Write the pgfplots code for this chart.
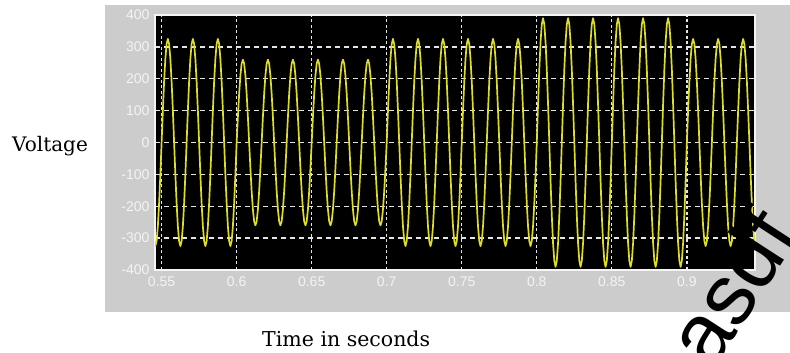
\documentclass[border=0pt]{standalone}
\usepackage{pgfplots}
\pgfplotsset{compat=1.18}
\usepackage{fontspec}
\setmainfont{DejaVu Serif}
\newfontfamily\ticksfont{Liberation Sans}
\newfontfamily\wmfont{Liberation Sans}
\definecolor{panelgray}{RGB}{204,204,204}
\definecolor{sigyellow}{RGB}{222,222,40}
\definecolor{gridwhite}{RGB}{228,228,228}
\definecolor{ticktext}{RGB}{244,244,244}
\begin{document}
\begin{tikzpicture}[x=1pt,y=1pt]
\useasboundingbox (0,0) rectangle (790,353);
\fill[panelgray] (105,41) rectangle (790,348);
\begin{axis}[
  at={(155pt,83pt)}, anchor=south west,
  scale only axis, width=600pt, height=255pt,
  xmin=0.5456, xmax=0.9454, ymin=-400, ymax=400,
  xtick={0.55,0.6,0.65,0.7,0.75,0.8,0.85,0.9},
  xticklabels={0.55,0.6,0.65,0.7,0.75,0.8,0.85,0.9},
  ytick={-400,-300,-200,-100,0,100,200,300,400},
  yticklabels={-400,-300,-200,-100,0,100,200,300,400},
  major tick length=0pt,
  ticklabel style={font=\ticksfont\fontsize{14}{14}\selectfont, text=ticktext},
  xticklabel style={yshift=-3pt},
  yticklabel style={xshift=-2pt},
  axis background/.style={fill=black},
  axis line style={draw=ticktext, line width=1.2pt},
  grid=major,
  major grid style={gridwhite, line width=1.3pt},
  x grid style={dash pattern=on 3pt off 2.5pt},
  y grid style={dash pattern=on 5pt off 4pt},
]
\addplot[sigyellow, line width=1.7pt, line join=round, no markers] table[row sep=\\, x expr=\thisrow{n}/1200, y=v] {
n v\\
654 -309.1\\ 655 -325\\ 656 -309.1\\ 657 -262.9\\ 658 -191.0\\ 659 -100.4\\
660 0\\ 661 100.4\\ 662 191.0\\ 663 262.9\\ 664 309.1\\ 665 325\\ 666 309.1\\ 667 262.9\\ 668 191.0\\ 669 100.4\\ 670 0\\ 671 -100.4\\ 672 -191.0\\ 673 -262.9\\ 674 -309.1\\ 675 -325\\ 676 -309.1\\ 677 -262.9\\ 678 -191.0\\ 679 -100.4\\
680 0\\ 681 100.4\\ 682 191.0\\ 683 262.9\\ 684 309.1\\ 685 325\\ 686 309.1\\ 687 262.9\\ 688 191.0\\ 689 100.4\\ 690 0\\ 691 -100.4\\ 692 -191.0\\ 693 -262.9\\ 694 -309.1\\ 695 -325\\ 696 -309.1\\ 697 -262.9\\ 698 -191.0\\ 699 -100.4\\
700 0\\ 701 100.4\\ 702 191.0\\ 703 262.9\\ 704 309.1\\ 705 325\\ 706 309.1\\ 707 262.9\\ 708 191.0\\ 709 100.4\\ 710 0\\ 711 -100.4\\ 712 -191.0\\ 713 -262.9\\ 714 -309.1\\ 715 -325\\ 716 -309.1\\ 717 -262.9\\ 718 -191.0\\ 719 -100.4\\
720 0\\ 721 80.3\\ 722 152.8\\ 723 210.3\\ 724 247.3\\ 725 260\\ 726 247.3\\ 727 210.3\\ 728 152.8\\ 729 80.3\\ 730 0\\ 731 -80.3\\ 732 -152.8\\ 733 -210.3\\ 734 -247.3\\ 735 -260\\ 736 -247.3\\ 737 -210.3\\ 738 -152.8\\ 739 -80.3\\
740 0\\ 741 80.3\\ 742 152.8\\ 743 210.3\\ 744 247.3\\ 745 260\\ 746 247.3\\ 747 210.3\\ 748 152.8\\ 749 80.3\\ 750 0\\ 751 -80.3\\ 752 -152.8\\ 753 -210.3\\ 754 -247.3\\ 755 -260\\ 756 -247.3\\ 757 -210.3\\ 758 -152.8\\ 759 -80.3\\
760 0\\ 761 80.3\\ 762 152.8\\ 763 210.3\\ 764 247.3\\ 765 260\\ 766 247.3\\ 767 210.3\\ 768 152.8\\ 769 80.3\\ 770 0\\ 771 -80.3\\ 772 -152.8\\ 773 -210.3\\ 774 -247.3\\ 775 -260\\ 776 -247.3\\ 777 -210.3\\ 778 -152.8\\ 779 -80.3\\
780 0\\ 781 80.3\\ 782 152.8\\ 783 210.3\\ 784 247.3\\ 785 260\\ 786 247.3\\ 787 210.3\\ 788 152.8\\ 789 80.3\\ 790 0\\ 791 -80.3\\ 792 -152.8\\ 793 -210.3\\ 794 -247.3\\ 795 -260\\ 796 -247.3\\ 797 -210.3\\ 798 -152.8\\ 799 -80.3\\
800 0\\ 801 80.3\\ 802 152.8\\ 803 210.3\\ 804 247.3\\ 805 260\\ 806 247.3\\ 807 210.3\\ 808 152.8\\ 809 80.3\\ 810 0\\ 811 -80.3\\ 812 -152.8\\ 813 -210.3\\ 814 -247.3\\ 815 -260\\ 816 -247.3\\ 817 -210.3\\ 818 -152.8\\ 819 -80.3\\
820 0\\ 821 80.3\\ 822 152.8\\ 823 210.3\\ 824 247.3\\ 825 260\\ 826 247.3\\ 827 210.3\\ 828 152.8\\ 829 80.3\\ 830 0\\ 831 -80.3\\ 832 -152.8\\ 833 -210.3\\ 834 -247.3\\ 835 -260\\ 836 -247.3\\ 837 -210.3\\ 838 -152.8\\ 839 -80.3\\
840 0\\ 841 100.4\\ 842 191.0\\ 843 262.9\\ 844 309.1\\ 845 325\\ 846 309.1\\ 847 262.9\\ 848 191.0\\ 849 100.4\\ 850 0\\ 851 -100.4\\ 852 -191.0\\ 853 -262.9\\ 854 -309.1\\ 855 -325\\ 856 -309.1\\ 857 -262.9\\ 858 -191.0\\ 859 -100.4\\
860 0\\ 861 100.4\\ 862 191.0\\ 863 262.9\\ 864 309.1\\ 865 325\\ 866 309.1\\ 867 262.9\\ 868 191.0\\ 869 100.4\\ 870 0\\ 871 -100.4\\ 872 -191.0\\ 873 -262.9\\ 874 -309.1\\ 875 -325\\ 876 -309.1\\ 877 -262.9\\ 878 -191.0\\ 879 -100.4\\
880 0\\ 881 100.4\\ 882 191.0\\ 883 262.9\\ 884 309.1\\ 885 325\\ 886 309.1\\ 887 262.9\\ 888 191.0\\ 889 100.4\\ 890 0\\ 891 -100.4\\ 892 -191.0\\ 893 -262.9\\ 894 -309.1\\ 895 -325\\ 896 -309.1\\ 897 -262.9\\ 898 -191.0\\ 899 -100.4\\
900 0\\ 901 100.4\\ 902 191.0\\ 903 262.9\\ 904 309.1\\ 905 325\\ 906 309.1\\ 907 262.9\\ 908 191.0\\ 909 100.4\\ 910 0\\ 911 -100.4\\ 912 -191.0\\ 913 -262.9\\ 914 -309.1\\ 915 -325\\ 916 -309.1\\ 917 -262.9\\ 918 -191.0\\ 919 -100.4\\
920 0\\ 921 100.4\\ 922 191.0\\ 923 262.9\\ 924 309.1\\ 925 325\\ 926 309.1\\ 927 262.9\\ 928 191.0\\ 929 100.4\\ 930 0\\ 931 -100.4\\ 932 -191.0\\ 933 -262.9\\ 934 -309.1\\ 935 -325\\ 936 -309.1\\ 937 -262.9\\ 938 -191.0\\ 939 -100.4\\
940 0\\ 941 100.4\\ 942 191.0\\ 943 262.9\\ 944 309.1\\ 945 325\\ 946 309.1\\ 947 262.9\\ 948 191.0\\ 949 100.4\\ 950 0\\ 951 -100.4\\ 952 -191.0\\ 953 -262.9\\ 954 -309.1\\ 955 -325\\ 956 -309.1\\ 957 -262.9\\ 958 -191.0\\ 959 -100.4\\
960 0\\ 961 120.5\\ 962 229.2\\ 963 315.5\\ 964 370.9\\ 965 390\\ 966 370.9\\ 967 315.5\\ 968 229.2\\ 969 120.5\\ 970 0\\ 971 -120.5\\ 972 -229.2\\ 973 -315.5\\ 974 -370.9\\ 975 -390\\ 976 -370.9\\ 977 -315.5\\ 978 -229.2\\ 979 -120.5\\
980 0\\ 981 120.5\\ 982 229.2\\ 983 315.5\\ 984 370.9\\ 985 390\\ 986 370.9\\ 987 315.5\\ 988 229.2\\ 989 120.5\\ 990 0\\ 991 -120.5\\ 992 -229.2\\ 993 -315.5\\ 994 -370.9\\ 995 -390\\ 996 -370.9\\ 997 -315.5\\ 998 -229.2\\ 999 -120.5\\
1000 0\\ 1001 120.5\\ 1002 229.2\\ 1003 315.5\\ 1004 370.9\\ 1005 390\\ 1006 370.9\\ 1007 315.5\\ 1008 229.2\\ 1009 120.5\\ 1010 0\\ 1011 -120.5\\ 1012 -229.2\\ 1013 -315.5\\ 1014 -370.9\\ 1015 -390\\ 1016 -370.9\\ 1017 -315.5\\ 1018 -229.2\\ 1019 -120.5\\
1020 0\\ 1021 120.5\\ 1022 229.2\\ 1023 315.5\\ 1024 370.9\\ 1025 390\\ 1026 370.9\\ 1027 315.5\\ 1028 229.2\\ 1029 120.5\\ 1030 0\\ 1031 -120.5\\ 1032 -229.2\\ 1033 -315.5\\ 1034 -370.9\\ 1035 -390\\ 1036 -370.9\\ 1037 -315.5\\ 1038 -229.2\\ 1039 -120.5\\
1040 0\\ 1041 120.5\\ 1042 229.2\\ 1043 315.5\\ 1044 370.9\\ 1045 390\\ 1046 370.9\\ 1047 315.5\\ 1048 229.2\\ 1049 120.5\\ 1050 0\\ 1051 -120.5\\ 1052 -229.2\\ 1053 -315.5\\ 1054 -370.9\\ 1055 -390\\ 1056 -370.9\\ 1057 -315.5\\ 1058 -229.2\\ 1059 -120.5\\
1060 0\\ 1061 120.5\\ 1062 229.2\\ 1063 315.5\\ 1064 370.9\\ 1065 390\\ 1066 370.9\\ 1067 315.5\\ 1068 229.2\\ 1069 120.5\\ 1070 0\\ 1071 -120.5\\ 1072 -229.2\\ 1073 -315.5\\ 1074 -370.9\\ 1075 -390\\ 1076 -370.9\\ 1077 -315.5\\ 1078 -229.2\\ 1079 -120.5\\
1080 0\\ 1081 100.4\\ 1082 191.0\\ 1083 262.9\\ 1084 309.1\\ 1085 325\\ 1086 309.1\\ 1087 262.9\\ 1088 191.0\\ 1089 100.4\\ 1090 0\\ 1091 -100.4\\ 1092 -191.0\\ 1093 -262.9\\ 1094 -309.1\\ 1095 -325\\ 1096 -309.1\\ 1097 -262.9\\ 1098 -191.0\\ 1099 -100.4\\
1100 0\\ 1101 100.4\\ 1102 191.0\\ 1103 262.9\\ 1104 309.1\\ 1105 325\\ 1106 309.1\\ 1107 262.9\\ 1108 191.0\\ 1109 100.4\\ 1110 0\\ 1111 -100.4\\ 1112 -191.0\\ 1113 -262.9\\ 1114 -309.1\\ 1115 -325\\ 1116 -309.1\\ 1117 -262.9\\ 1118 -191.0\\ 1119 -100.4\\
1120 0\\ 1121 100.4\\ 1122 191.0\\ 1123 262.9\\ 1124 309.1\\ 1125 325\\ 1126 309.1\\ 1127 262.9\\ 1128 191.0\\ 1129 100.4\\ 1130 0\\ 1131 -100.4\\ 1132 -191.0\\ 1133 -262.9\\ 1134 -309.1\\ 1135 -325\\ 1136 -309.1\\
};
\end{axis}
\node[anchor=base west, inner sep=0pt, font=\fontsize{20}{20}\selectfont] at (12,201) {Voltage};
\node[anchor=base west, inner sep=0pt, font=\fontsize{20.5}{20.5}\selectfont] at (262,6.5) {Time in seconds};
\begin{scope}
\clip (0,0) rectangle (790,353);
\node[rotate=57, inner sep=0pt, font=\wmfont\fontsize{86}{86}\selectfont] at (731,66) {asdf};
\end{scope}
\end{tikzpicture}
\end{document}
